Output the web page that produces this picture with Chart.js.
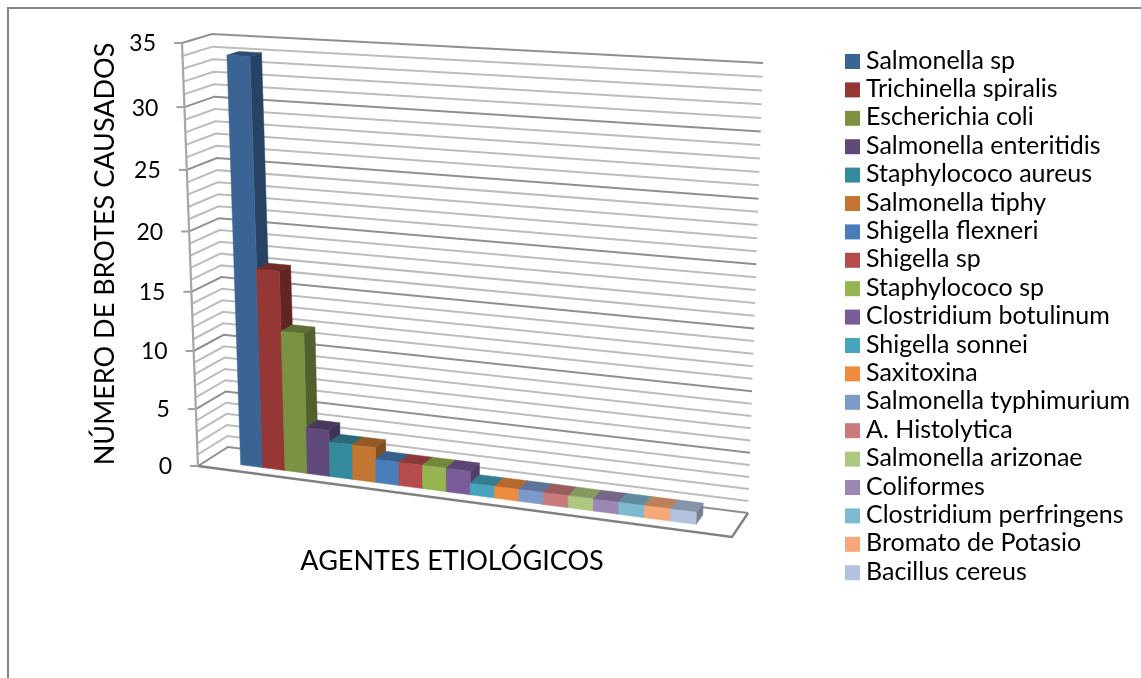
<!DOCTYPE html>
<html>
<head>
<meta charset="utf-8">
<title>Brotes por agente etiológico</title>
<script src="https://cdn.jsdelivr.net/npm/chart.js@4"></script>
<style>
  html, body { margin: 0; padding: 0; background: #fff; overflow: hidden; }
  canvas { display: block; }
</style>
</head>
<body>
<canvas id="chart" width="1141" height="678"></canvas>
<script>
const agentes = [
  "Salmonella sp", "Trichinella spiralis", "Escherichia coli", "Salmonella enteritidis",
  "Staphylococo aureus", "Salmonella tiphy", "Shigella flexneri", "Shigella sp",
  "Staphylococo sp", "Clostridium botulinum", "Shigella sonnei", "Saxitoxina",
  "Salmonella typhimurium", "A. Histolytica", "Salmonella arizonae", "Coliformes",
  "Clostridium perfringens", "Bromato de Potasio", "Bacillus cereus"
]
const brotes = [34, 17, 12, 4, 3, 3, 2, 2, 2, 2, 1, 1, 1, 1, 1, 1, 1, 1, 1]
const colores = [
  "#3b6495", "#943735", "#7a9242", "#604a7b", "#368a9e", "#c27631", "#4a7ebb",
  "#b54b4b", "#96b44f", "#7a5c9a", "#46a4be", "#ed8c3e", "#7c9ac9", "#c97b7b",
  "#afc881", "#9b87b3", "#7dbacf", "#f8a878", "#b3c2de"
]
const tituloY = "NÚMERO DE BROTES CAUSADOS"
const tituloX = "AGENTES ETIOLÓGICOS"
const FONT = "Lato, Carlito, sans-serif"

// corners of the 3D box on screen: bottom-left, bottom-right, top-right, top-left
const planoFrente = quadMap([198, 466], [732, 537], [747, 76], [182, 43])
const planoFondo = quadMap([228, 447], [748, 513], [763, 63], [212, 34])
const BAR_W0 = 0.3, BAR_W1 = 0.7
const WARP_U = 1.013, WARP_V = 1.015

function quadMap(p0, p1, p2, p3) {
  const dx1 = p1[0] - p2[0], dx2 = p3[0] - p2[0], sx = p0[0] - p1[0] + p2[0] - p3[0]
  const dy1 = p1[1] - p2[1], dy2 = p3[1] - p2[1], sy = p0[1] - p1[1] + p2[1] - p3[1]
  const den = dx1 * dy2 - dx2 * dy1
  const g = (sx * dy2 - dx2 * sy) / den
  const h = (dx1 * sy - sx * dy1) / den
  const a = p1[0] - p0[0] + g * p1[0], b = p3[0] - p0[0] + h * p3[0]
  const d = p1[1] - p0[1] + g * p1[1], e = p3[1] - p0[1] + h * p3[1]
  return (u, v) => {
    const q = g * u + h * v + 1
    return [(a * u + b * v + p0[0]) / q, (d * u + e * v + p0[1]) / q]
  }
}

function warp(t, k) {
  return t / (t + k * (1 - t))
}

// u, v in 0..1 of the chart area, w is depth: 0 front, 1 back
function project(u, v, w) {
  const uu = warp(u, WARP_U), vv = warp(v, WARP_V)
  const f = planoFrente(uu, vv), b = planoFondo(uu, vv)
  return [f[0] + (b[0] - f[0]) * w, f[1] + (b[1] - f[1]) * w]
}

function shade(hex, k) {
  const n = parseInt(hex.slice(1), 16)
  const c = [n >> 16, (n >> 8) & 255, n & 255].map(x => Math.round(x * k))
  return `rgb(${c[0]},${c[1]},${c[2]})`
}

function poly(ctx, pts, fill) {
  ctx.beginPath()
  pts.forEach((p, i) => i ? ctx.lineTo(p[0], p[1]) : ctx.moveTo(p[0], p[1]))
  ctx.closePath()
  ctx.fillStyle = fill
  ctx.fill()
  ctx.strokeStyle = fill
  ctx.lineWidth = 0.5
  ctx.stroke()
}

function line(ctx, pts, color, width) {
  ctx.beginPath()
  pts.forEach((p, i) => i ? ctx.lineTo(p[0], p[1]) : ctx.moveTo(p[0], p[1]))
  ctx.strokeStyle = color
  ctx.lineWidth = width
  ctx.stroke()
}

const caja3d = {
  id: "caja3d",
  beforeDatasetsDraw(chart) {
    const ctx = chart.ctx
    const area = chart.chartArea
    const yScale = chart.scales.y
    const toU = x => (x - area.left) / (area.right - area.left)
    const toV = y => (area.bottom - y) / (area.bottom - area.top)

    ctx.save()
    // outer frame, only top and left are visible
    line(ctx, [[8, 678], [8, 8], [1141, 8]], "#868686", 2)

    // walls and gridlines, one per unit
    yScale.ticks.forEach(t => {
      const v = toV(yScale.getPixelForValue(t.value))
      const major = t.value % 5 === 0
      const color = major ? "#8f8f8f" : "#bcbcbc"
      const front = project(0, v, 0)
      line(ctx, [front, project(0, v, 1), project(1, v, 1)], color, 2)
      if (major) {
        line(ctx, [[front[0] - 8, front[1]], front], "#a0a0a0", 2)
        ctx.fillStyle = "#000"
        ctx.font = "23px " + FONT
        ctx.textAlign = "right"
        ctx.textBaseline = "middle"
        ctx.fillText(String(t.value), front[0] - 26, front[1] + 1)
      }
    })

    // floor outline and front axis
    line(ctx, [project(0, 0, 0), project(1, 0, 0), project(1, 0, 1)], "#808080", 2.4)
    line(ctx, [project(0, 1, 0), project(0, 0, 0)], "#a6a6a6", 2.2)

    // bars left to right so each front face covers the previous side
    chart.data.datasets.forEach((ds, i) => {
      const el = chart.getDatasetMeta(i).data[0]
      const u0 = toU(el.x - el.width / 2), u1 = toU(el.x + el.width / 2)
      const v0 = toV(el.base), v1 = toV(el.y)
      poly(ctx, [project(u1, v0, BAR_W0), project(u1, v0, BAR_W1), project(u1, v1, BAR_W1), project(u1, v1, BAR_W0)], shade(ds.backgroundColor, 0.66))
      poly(ctx, [project(u0, v1, BAR_W0), project(u1, v1, BAR_W0), project(u1, v1, BAR_W1), project(u0, v1, BAR_W1)], shade(ds.backgroundColor, 0.76))
      poly(ctx, [project(u0, v0, BAR_W0), project(u1, v0, BAR_W0), project(u1, v1, BAR_W0), project(u0, v1, BAR_W0)], ds.backgroundColor)
    })

    // axis titles
    ctx.fillStyle = "#000"
    ctx.textBaseline = "middle"
    ctx.textAlign = "center"
    ctx.font = "27px " + FONT
    ctx.fillText(tituloX, 452, 561)
    ctx.save()
    ctx.translate(105, 254)
    ctx.rotate(-Math.PI / 2)
    ctx.fillText(tituloY, 0, 0)
    ctx.restore()

    // legend column
    ctx.font = "25px " + FONT
    ctx.textAlign = "left"
    chart.data.datasets.forEach((ds, i) => {
      const y = 54 + i * 28.4
      ctx.fillStyle = ds.backgroundColor
      ctx.fillRect(845, y, 15, 15)
      ctx.fillStyle = "#000"
      ctx.fillText(ds.label, 866, y + 6.5)
    })
    ctx.restore()
    // bars were painted above in projection
    return false
  }
}

new Chart(document.getElementById("chart"), {
  type: "bar",
  data: {
    labels: [tituloX],
    datasets: agentes.map((a, i) => ({
      label: a,
      data: [brotes[i]],
      backgroundColor: colores[i]
    }))
  },
  options: {
    responsive: false,
    animation: false,
    categoryPercentage: 0.86,
    barPercentage: 1,
    plugins: { legend: { display: false }, tooltip: { enabled: false } },
    scales: {
      x: { display: false },
      y: { display: false, min: 0, max: 35, ticks: { stepSize: 1 } }
    }
  },
  plugins: [caja3d]
})
</script>
</body>
</html>
